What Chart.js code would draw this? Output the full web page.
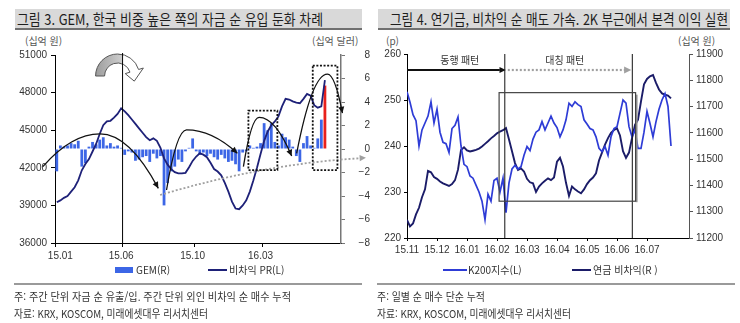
<!DOCTYPE html>
<html lang="ko">
<head>
<meta charset="utf-8">
<title>GEM 자금 흐름 / 연기금 비차익</title>
<script src="https://cdn.jsdelivr.net/npm/chart.js@4.4.1/dist/chart.umd.min.js"></script>
<style>
  body { margin:0; width:740px; height:323px; position:relative; overflow:hidden; background:#fff;
         font-family:"Noto Sans CJK KR","Liberation Sans",sans-serif; color:#333; }
  .abs { position:absolute; white-space:nowrap; }
  .bar { position:absolute; top:9px; height:19px; background:#d9d9d9; border-bottom:2px solid #707070; }
  .fit { display:inline-block; transform-origin:0 50%; }
  .title { font-size:15px; line-height:19px; color:#1e1e1e; }
  .unit { font-size:10px; line-height:12px; color:#555; }
  .legend { font-size:10px; line-height:12px; color:#333; }
  .note { font-size:11px; line-height:14px; color:#333; }
  .rule { position:absolute; height:2px; background:#9a9a9a; }
  .swatch { position:absolute; }
  .panel { position:absolute; top:0; width:370px; height:270px; }
</style>
</head>
<body>

<div class="bar" style="left:15px;width:347px"></div>
<div class="abs title" style="left:17px;top:9px"><span class="fit" data-w="306">그림 3. GEM, 한국 비중 높은 쪽의 자금 순 유입 둔화 차례</span></div>
<div class="bar" style="left:378px;width:352px"></div>
<div class="abs title" style="left:390px;top:9px"><span class="fit" data-w="338">그림 4. 연기금, 비차익 순 매도 가속. 2K 부근에서 본격 이익 실현</span></div>

<div class="abs unit" style="left:25px;top:35px">(십억 원)</div>
<div class="abs unit" style="left:312px;top:35px">(십억 달러)</div>
<div class="abs unit" style="left:386px;top:35px">(p)</div>
<div class="abs unit" style="left:678px;top:35px">(십억 원)</div>

<div class="panel" style="left:0"><canvas id="gemChart" width="370" height="270"></canvas></div>
<div class="panel" style="left:370px"><canvas id="pensionChart" width="370" height="270"></canvas></div>

<!-- legends -->
<div class="swatch" style="left:115px;top:267px;width:18px;height:6px;background:#3c66e6"></div>
<div class="abs legend" style="left:136px;top:264px">GEM(R)</div>
<div class="swatch" style="left:208px;top:269px;width:19px;height:2px;background:#1e2178"></div>
<div class="abs legend" style="left:229px;top:264px">비차익 PR(L)</div>

<div class="swatch" style="left:443px;top:269px;width:24px;height:2px;background:#2e3cd6"></div>
<div class="abs legend" style="left:468px;top:264px">K200지수(L)</div>
<div class="swatch" style="left:572px;top:269px;width:19px;height:2px;background:#1b1c68"></div>
<div class="abs legend" style="left:593px;top:264px">연금 비차익(R )</div>

<div class="rule" style="left:14px;top:283px;width:348px"></div>
<div class="rule" style="left:377px;top:283px;width:358px"></div>

<div class="abs note" style="left:14px;top:289px"><span class="fit" data-w="277">주: 주간 단위 자금 순 유출/입. 주간 단위 외인 비차익 순 매수 누적</span></div>
<div class="abs note" style="left:14px;top:306px"><span class="fit" data-w="194">자료: KRX, KOSCOM, 미래에셋대우 리서치센터</span></div>
<div class="abs note" style="left:377px;top:289px"><span class="fit" data-w="108">주: 일별 순 매수 단순 누적</span></div>
<div class="abs note" style="left:377px;top:306px"><span class="fit" data-w="194">자료: KRX, KOSCOM, 미래에셋대우 리서치센터</span></div>

<script>
// ---- 그림 3: weekly GEM flows (R) and foreign non-arbitrage PR (L) ----
const weekCount = 80;
const xLabelsL = ['15.01', '15.06', '15.10', '16.03'];
const xLabelAtL = [1, 18, 38, 57];
const xMarksL = [0, 19, 39, 58, 80];

const gemFlow = [
  -1.9, 0.3, 0.2, 0.3, 0.5, 0.4, 0.7, -1.5, -1.2, 0.2,
  0.6, 0.4, 0.8, 1.0, 0.3, 0.5, 0.2, 0.3, 0.1, -0.5,
  -0.2, -0.3, -1.0, -0.9, -0.7, -0.6, -1.1, -0.4, -0.8, -0.6,
  -4.8, -2.9, -1.9, -1.5, -0.9, -1.1, -0.2, 0.1, 0.9, -0.2,
  -0.5, -0.3, -0.6, -0.4, -0.7, -0.9, -0.5, -0.8, -1.1, -1.0,
  -1.3, -1.9, -0.3, -0.2, 0.3, 0.1, 0.2, 0.5, 2.2, 1.6,
  2.2, 0.6, 0.3, 1.3, 1.0, 0.8, 0.2, -0.6, -1.1, 0.5,
  1.1, 0.3, 0.1, 0.9, 2.5, 5.4
];
const nonArbPR = [
  39250, 39400, 39600, 39750, 40100, 40450, 41000, 41800, 42300, 42700,
  43300, 43900, 44700, 45400, 45700, 45750, 46000, 46300, 46750, 46500,
  46200, 45850, 45500, 45150, 44800, 44450, 44200, 44350, 44150, 43600,
  42750, 42250, 41900, 41650, 41550, 41550, 41600, 42050, 42550, 42900,
  43150, 43050, 42850, 42400, 41900, 41700, 41400, 40800, 40100, 39300,
  38750, 38700, 39000, 39400, 40100, 41000, 42000, 43100, 44150, 44900,
  45400, 45700, 46100, 46900, 47500, 47450, 47300, 47200, 47150, 47500,
  47900, 47750, 47000, 46800, 46900, 49000
];

// annotation geometry, in (week index, 십억 원) units
const cycleArcs = [
  [[-3.9, 42090], [12.1, 44700], [28.4, 40360]],
  [[30.7, 40230], [36.3, 45020], [50.5, 43160]],
  [[52.2, 42090], [56.6, 46030], [65.7, 42940]],
  [[67.1, 43160], [75.7, 49480], [79.9, 46370]]
];
const floorTrend = [[28.9, 39830], [57.7, 41820], [84.8, 42760]];
const focusBoxes = [[53.6, 61.7, 46560, 41820], [71.6, 78.5, 50150, 41820]];
const turnWeek = 18.4;

// ---- 그림 4: K200 (L) and pension non-arbitrage cumulative (R), every 2 sessions ----
const xLabelsR = ['15.11', '15.12', '16.01', '16.02', '16.03', '16.04', '16.05', '16.06', '16.07'];
const k200 = [
  251.8, 249.5, 246.8, 245.5, 240.0, 243.5, 245.0, 246.5, 249.6, 245.0,
  248.0, 243.0, 240.8, 240.5, 238.6, 243.8, 244.5, 246.3, 240.0, 236.0,
  235.5, 233.5, 233.0, 231.5, 230.0, 228.0, 224.0, 229.5, 228.0, 232.5,
  233.0, 230.0, 233.0, 225.5, 232.0, 235.0, 235.8, 235.0, 235.5, 238.0,
  239.9, 239.0, 241.5, 243.0, 243.5, 245.3, 243.5, 245.0, 246.5, 245.0,
  244.0, 242.0, 243.5, 245.7, 249.3, 248.6, 249.6, 249.0, 248.6, 245.7,
  244.8, 243.8, 243.5, 242.0, 239.5, 238.8, 239.9, 238.0, 242.0, 243.8,
  244.2, 247.1, 250.0, 249.3, 244.2, 242.0, 243.5, 239.5, 239.5, 243.0,
  247.5, 244.9, 242.0, 245.3, 248.0, 250.0, 251.4, 248.6, 240.0
];
const pensionNonArb = [
  11269, 11244, 11255, 11290, 11315, 11355, 11385, 11455, 11450, 11432,
  11425, 11415, 11408, 11403, 11398, 11405, 11420, 11460, 11535, 11545,
  11533, 11529, 11532, 11535, 11540, 11548, 11558, 11568, 11579, 11588,
  11598, 11605, 11610, 11618, 11575, 11530, 11485, 11459, 11465, 11453,
  11425, 11412, 11408, 11375, 11396, 11408, 11418, 11427, 11420, 11430,
  11490, 11505, 11472, 11410, 11360, 11396, 11385, 11377, 11370, 11385,
  11405, 11420, 11430, 11446, 11495, 11525, 11555, 11580, 11600, 11611,
  11617, 11590, 11530, 11505, 11525, 11580, 11630, 11650, 11720, 11785,
  11805, 11815, 11820, 11790, 11765, 11750, 11745, 11742, 11731
];
const splitAt = [32.6, 75.1];
const patternBox = [30.7, 76.2, 251.6, 228.0];
const patternText = [['동행 패턴', 17.6], ['대칭 패턴', 52.6]];

// ---- shared look ----
Chart.defaults.font.family = '"Liberation Sans", Arial, sans-serif';
Chart.defaults.font.size = 10;
Chart.defaults.color = '#333';
Chart.defaults.animation = false;
Chart.defaults.plugins.legend.display = false;
Chart.defaults.plugins.tooltip.enabled = false;

const navyPR = '#1e2178';
const gemBlue = '#3c66e6';
const k200Blue = '#2e3cd6';
const pensionNavy = '#1b1c68';

function arrowHead(ctx, fromX, fromY, toX, toY, size, color) {
  const ang = Math.atan2(toY - fromY, toX - fromX);
  ctx.save();
  ctx.setLineDash([]);
  ctx.fillStyle = color;
  ctx.beginPath();
  ctx.moveTo(toX, toY);
  ctx.lineTo(toX - size * Math.cos(ang - 0.45), toY - size * Math.sin(ang - 0.45));
  ctx.lineTo(toX - size * Math.cos(ang + 0.45), toY - size * Math.sin(ang + 0.45));
  ctx.closePath();
  ctx.fill();
  ctx.restore();
}

// curved block arrow above the turning point
function turnArrow(ctx, cx, cy) {
  const R = 22, r = 13, end = 2 * Math.PI - 0.3;
  const mid = (R + r) / 2;
  const tip = end + 0.6;
  ctx.beginPath();
  ctx.arc(cx, cy, R, Math.PI, end);
  ctx.lineTo(cx + (R + 5) * Math.cos(end), cy + (R + 5) * Math.sin(end));
  ctx.lineTo(cx + mid * Math.cos(tip), cy + mid * Math.sin(tip));
  ctx.lineTo(cx + (r - 5) * Math.cos(end), cy + (r - 5) * Math.sin(end));
  ctx.lineTo(cx + r * Math.cos(end), cy + r * Math.sin(end));
  ctx.arc(cx, cy, r, end, Math.PI, true);
  ctx.closePath();
}

const gemAnnotations = {
  id: 'gemAnnotations',
  afterDatasetsDraw(chart) {
    const { ctx, chartArea: a } = chart;
    const xs = chart.scales.x, ys = chart.scales.yL;
    const P = ([i, v]) => ({ x: xs.getPixelForValue(i), y: ys.getPixelForValue(v) });
    ctx.save();

    // turning point marker
    const xt = xs.getPixelForValue(turnWeek);
    turnArrow(ctx, xt - 5, a.top + 21);
    ctx.fillStyle = '#fff';
    ctx.fill();
    ctx.save();
    ctx.clip();
    const g = ctx.createLinearGradient(xt - 27, 0, xt, 0);
    g.addColorStop(0, '#9c9c9c');
    g.addColorStop(1, '#cfcfcf');
    ctx.fillStyle = g;
    ctx.fillRect(xt - 30, a.top - 5, 30, 30);
    ctx.restore();
    ctx.strokeStyle = '#555';
    ctx.lineWidth = 1;
    ctx.stroke();

    ctx.strokeStyle = '#000';
    ctx.lineWidth = 1;
    ctx.beginPath();
    ctx.moveTo(xt, a.top - 2);
    ctx.lineTo(xt, a.bottom);
    ctx.stroke();

    // rising floor of the cycles
    const s = P(floorTrend[0]), m = P(floorTrend[1]), e = P(floorTrend[2]);
    const cx = 2 * m.x - (s.x + e.x) / 2, cy = 2 * m.y - (s.y + e.y) / 2;
    ctx.strokeStyle = '#a0a0a0';
    ctx.lineWidth = 1.8;
    ctx.setLineDash([2, 2]);
    ctx.beginPath();
    ctx.moveTo(s.x, s.y);
    ctx.quadraticCurveTo(cx, cy, e.x, e.y);
    ctx.stroke();
    arrowHead(ctx, cx, cy, e.x + 6, e.y - 0.5, 7, '#a0a0a0');

    // dotted focus boxes
    ctx.strokeStyle = '#111';
    ctx.lineWidth = 1.8;
    ctx.setLineDash([2, 1.6]);
    focusBoxes.forEach(([i0, i1, v0, v1]) => {
      const p0 = P([i0, v0]), p1 = P([i1, v1]);
      ctx.strokeRect(p0.x, p0.y, p1.x - p0.x, p1.y - p0.y);
    });
    ctx.setLineDash([]);

    // flow cycles
    ctx.strokeStyle = '#111';
    ctx.lineWidth = 1.3;
    cycleArcs.forEach(arc => {
      const [st, pk, en] = arc.map(P);
      const c1x = st.x + (pk.x - st.x) * 0.5;
      const c2x = pk.x + (en.x - pk.x) * 0.5;
      ctx.beginPath();
      ctx.moveTo(st.x, st.y);
      ctx.quadraticCurveTo(c1x, pk.y, pk.x, pk.y);
      ctx.quadraticCurveTo(c2x, pk.y, en.x, en.y);
      ctx.stroke();
      arrowHead(ctx, c2x, pk.y, en.x, en.y, 7, '#111');
    });
    ctx.restore();
  }
};

new Chart(document.getElementById('gemChart'), {
  data: {
    labels: Array.from({ length: weekCount }, (_, i) => {
      const k = xLabelAtL.indexOf(i);
      return k >= 0 ? xLabelsL[k] : '';
    }),
    datasets: [
      {
        type: 'line', label: '비차익 PR(L)', data: nonArbPR, yAxisID: 'yL', order: 0,
        borderColor: navyPR, borderWidth: 1.8, pointRadius: 0, tension: 0
      },
      {
        type: 'bar', label: 'GEM(R)', data: gemFlow, yAxisID: 'yR', order: 1,
        backgroundColor: c => c.dataIndex === gemFlow.length - 1 ? '#e8201c' : gemBlue,
        barPercentage: 0.78, categoryPercentage: 1
      }
    ]
  },
  options: {
    responsive: false,
    devicePixelRatio: 1,
    layout: { padding: { top: 55, left: 0, right: 0, bottom: 0 } },
    scales: {
      x: {
        offset: true,
        grid: {
          offset: true, drawOnChartArea: false, tickLength: 4,
          color: c => xMarksL.includes(c.index) ? '#000' : 'rgba(0,0,0,0)'
        },
        border: { color: '#000' },
        ticks: { autoSkip: false, minRotation: 0, maxRotation: 0, padding: 3 },
        afterFit: s => { s.height = 27; }
      },
      yL: {
        position: 'left', min: 36000, max: 51000,
        ticks: { stepSize: 3000, padding: 4, callback: v => String(v) },
        grid: { drawOnChartArea: false, tickLength: 4, color: '#000' },
        border: { color: '#000' },
        afterFit: s => { s.width = 55; }
      },
      yR: {
        position: 'right', min: -8, max: 8,
        ticks: { stepSize: 2, padding: 1, crossAlign: 'far', callback: v => v < 0 ? '−' + Math.abs(v) : String(v) },
        grid: { drawOnChartArea: false, tickLength: 4, color: '#777' },
        border: { color: '#777', width: 1.5 },
        afterFit: s => { s.width = 29; }
      }
    }
  },
  plugins: [gemAnnotations]
});

const pensionAnnotations = {
  id: 'pensionAnnotations',
  afterDatasetsDraw(chart) {
    const { ctx, chartArea: a } = chart;
    const xs = chart.scales.x, ys = chart.scales.yL;
    ctx.save();

    // pattern boundaries
    ctx.strokeStyle = '#111';
    ctx.lineWidth = 1;
    splitAt.forEach(i => {
      const x = xs.getPixelForValue(i);
      ctx.beginPath();
      ctx.moveTo(x, a.top);
      ctx.lineTo(x, a.bottom);
      ctx.stroke();
    });

    // pattern arrows and labels
    const x0 = xs.getPixelForValue(0), x1 = xs.getPixelForValue(splitAt[0]), x2 = xs.getPixelForValue(splitAt[1]);
    const ay = a.top + 16;
    ctx.lineWidth = 2;
    ctx.beginPath();
    ctx.moveTo(x0, ay);
    ctx.lineTo(x1 - 5, ay);
    ctx.stroke();
    arrowHead(ctx, x0, ay, x1 + 1, ay, 7, '#111');

    ctx.strokeStyle = '#a0a0a0';
    ctx.lineWidth = 2.2;
    ctx.setLineDash([2, 2]);
    ctx.beginPath();
    ctx.moveTo(x1 + 3, ay);
    ctx.lineTo(x2 - 6, ay);
    ctx.stroke();
    ctx.setLineDash([]);
    arrowHead(ctx, x1, ay, x2 - 1, ay, 8, '#a0a0a0');

    ctx.fillStyle = '#333';
    ctx.font = '10px "Noto Sans CJK KR", sans-serif';
    ctx.textAlign = 'center';
    ctx.textBaseline = 'middle';
    patternText.forEach(([t, i]) => ctx.fillText(t, xs.getPixelForValue(i), a.top + 6));

    // symmetric pattern window
    const [i0, i1, v0, v1] = patternBox;
    const bx0 = xs.getPixelForValue(i0), bx1 = xs.getPixelForValue(i1);
    const by0 = ys.getPixelForValue(v0), by1 = ys.getPixelForValue(v1);
    ctx.strokeStyle = '#9a9a9a';
    ctx.lineWidth = 2;
    ctx.beginPath();
    ctx.moveTo(bx1 + 1, by0 + 2);
    ctx.lineTo(bx1 + 1, by1 + 1);
    ctx.stroke();
    ctx.strokeStyle = '#444';
    ctx.lineWidth = 1.2;
    ctx.strokeRect(bx0, by0, bx1 - bx0, by1 - by0);
    ctx.restore();
  }
};

new Chart(document.getElementById('pensionChart'), {
  type: 'line',
  data: {
    datasets: [
      {
        label: 'K200지수(L)', data: k200.map((v, i) => ({ x: i, y: v })), yAxisID: 'yL',
        borderColor: k200Blue, borderWidth: 1.7, pointRadius: 0, tension: 0
      },
      {
        label: '연금 비차익(R)', data: pensionNonArb.map((v, i) => ({ x: i, y: v })), yAxisID: 'yR',
        borderColor: pensionNavy, borderWidth: 1.9, pointRadius: 0, tension: 0
      }
    ]
  },
  options: {
    responsive: false,
    devicePixelRatio: 1,
    layout: { padding: { top: 54, left: 0, right: 0, bottom: 0 } },
    scales: {
      x: {
        type: 'linear', min: 0, max: 94,
        afterBuildTicks: s => { s.ticks = s.ticks.filter(t => t.value % 10 === 0); },
        ticks: { stepSize: 10, padding: 3, maxRotation: 0, callback: v => xLabelsR[v / 10] || '' },
        grid: { drawOnChartArea: false, tickLength: 3, color: '#000' },
        border: { color: '#000' },
        afterFit: s => { s.height = 32; }
      },
      yL: {
        position: 'left', min: 220, max: 260,
        ticks: { stepSize: 10, padding: 3 },
        grid: { drawOnChartArea: false, tickLength: 3, color: '#000' },
        border: { color: '#000' },
        afterFit: s => { s.width = 37; }
      },
      yR: {
        position: 'right', min: 11200, max: 11900,
        ticks: { stepSize: 100, padding: 3, callback: v => String(v) },
        grid: { drawOnChartArea: false, tickLength: 4, color: '#555' },
        border: { color: '#555' },
        afterFit: s => { s.width = 51; }
      }
    }
  },
  plugins: [pensionAnnotations]
});

// squeeze the condensed headline and note text to their set widths
function fitAll() {
  document.querySelectorAll('.fit').forEach(el => {
    el.style.transform = 'none';
    const w = el.getBoundingClientRect().width;
    if (w > 0) el.style.transform = 'scaleX(' + (el.dataset.w / w) + ')';
  });
}
fitAll();
document.fonts.ready.then(fitAll);
</script>
</body>
</html>
